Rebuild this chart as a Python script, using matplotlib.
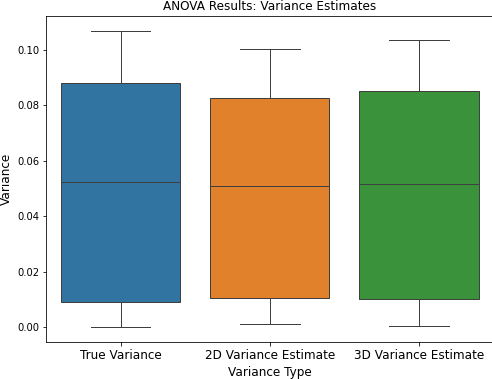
import matplotlib
matplotlib.use("Agg")
import matplotlib.pyplot as plt

categories = ["True Variance", "2D Variance Estimate", "3D Variance Estimate"]
whislo = [0.0000, 0.0013, 0.0006]
q1 = [0.0091, 0.0107, 0.0101]
med = [0.0523, 0.0510, 0.0516]
q3 = [0.0881, 0.0826, 0.0853]
whishi = [0.1069, 0.1004, 0.1036]
colors = ["#3274a1", "#e1812c", "#3a923a"]

fig = plt.figure(figsize=(492/72, 379/72), dpi=72)
ax = fig.add_axes([46/492, 1-342.3/379, (493.5-46)/492, (342.3-16)/379])

stats = []
for i, c in enumerate(categories):
    stats.append(dict(label=c, whislo=whislo[i], q1=q1[i], med=med[i],
                      q3=q3[i], whishi=whishi[i], fliers=[]))

lc = "#3f3f3f"
bp = ax.bxp(stats, positions=range(len(categories)), widths=0.8,
            patch_artist=True, showfliers=False, capwidths=0.4,
            boxprops=dict(edgecolor=lc, linewidth=1),
            whiskerprops=dict(color=lc, linewidth=1),
            capprops=dict(color=lc, linewidth=1),
            medianprops=dict(color=lc, linewidth=1))
for patch, col in zip(bp["boxes"], colors):
    patch.set_facecolor(col)

ax.set_xlim(-0.5, 2.5)
ax.set_xticks(range(len(categories)))
ax.set_xticklabels(categories, fontsize=12)
ax.tick_params(axis="y", labelsize=10)
ax.set_yticks([0.0, 0.02, 0.04, 0.06, 0.08, 0.10])
ax.set_yticklabels(["0.00", "0.02", "0.04", "0.06", "0.08", "0.10"])
ax.set_xlabel("Variance Type", fontsize=12)
ax.set_ylabel("Variance", fontsize=12)
ax.set_title("ANOVA Results: Variance Estimates", fontsize=12)

fig.savefig("out.png", dpi=72)
